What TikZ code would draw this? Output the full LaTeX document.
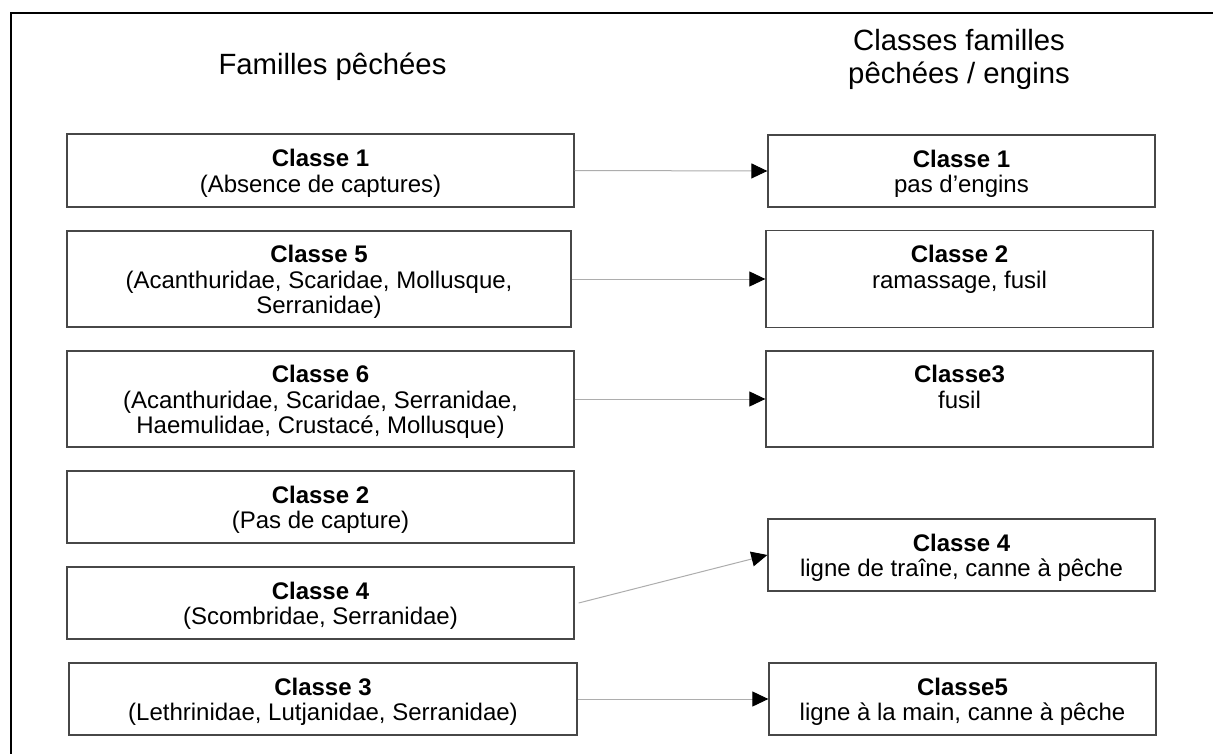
\documentclass[tikz,border=0pt]{standalone}
\usepackage{fontspec}
\setmainfont{Liberation Sans}
\usetikzlibrary{arrows.meta}
\tikzset{
  box/.style={draw=black!72, line width=1.3pt, fill=white, inner sep=0pt, align=center,
    font=\fontsize{24}{25.5}\selectfont},
  link/.style={draw=black!32, line width=1pt,
    -{Triangle[length=16pt,width=15pt,color=black]}},
  titletext/.style={inner sep=0pt, align=center, font=\fontsize{29.3}{32.5}\selectfont},
  frameline/.style={draw=black, line width=2pt}
}
\newcommand{\cl}[1]{\rule{0pt}{24pt}\textbf{#1}}
\newcommand{\fb}{\rule[-6pt]{0pt}{6pt}}
\begin{document}
\begin{tikzpicture}[x=1pt,y=-1pt]
\useasboundingbox (0,0) rectangle (1213,754);
\fill[white] (0,0) rectangle (1213,754);
\draw[frameline] (11,754) -- (11,13) -- (1213,13);

\node[titletext, anchor=base] (tl) at (332.5,75) {Familles pêchées};
\node[titletext, anchor=north] (tr) at (959,29.5) {Classes familles\\pêchées / engins};

% left column
\node[box, minimum width=507pt, minimum height=73pt] (l1) at (320.5,170.5) {\cl{Classe 1}\\(Absence de captures)\fb};
\node[box, minimum width=504pt, minimum height=96pt] (l5) at (319,279) {\cl{Classe 5}\\(Acanthuridae, Scaridae, Mollusque,\\Serranidae)\fb};
\node[box, minimum width=507pt, minimum height=96pt] (l6) at (320.5,399) {\cl{Classe 6}\\(Acanthuridae, Scaridae, Serranidae,\\Haemulidae, Crustacé, Mollusque)\fb};
\node[box, minimum width=507pt, minimum height=72pt] (l2) at (320.5,507) {\cl{Classe 2}\\(Pas de capture)\fb};
\node[box, minimum width=507pt, minimum height=72pt] (l4) at (320.5,603) {\cl{Classe 4}\\(Scombridae, Serranidae)\fb};
\node[box, minimum width=508pt, minimum height=72pt] (l3) at (323,699) {\cl{Classe 3}\\(Lethrinidae, Lutjanidae, Serranidae)\fb};

% right column
\node[box, minimum width=387pt, minimum height=72pt] (r1) at (961.5,171) {\cl{Classe 1}\\pas d’engins\fb};
\node[box, minimum width=387pt, minimum height=97pt] (r2) at (959.5,279) {\cl{Classe 2}\\ramassage, fusil\\\mbox{}\fb};
\node[box, minimum width=387pt, minimum height=96pt] (r3) at (959.5,399) {\cl{Classe3}\\fusil\\\mbox{}\fb};
\node[box, minimum width=387pt, minimum height=72pt] (r4) at (961.5,555) {\cl{Classe 4}\\ligne de traîne, canne à pêche\fb};
\node[box, minimum width=387pt, minimum height=72pt] (r5) at (962.5,699) {\cl{Classe5}\\ligne à la main, canne à pêche\fb};

% connectors
\draw[link] (l1.east) -- (r1.west);
\draw[link] (l5.east) -- (r2.west);
\draw[link] (l6.east) -- (r3.west);
\draw[link] ([xshift=4pt]l4.east) -- (r4.west);
\draw[link] (l3.east) -- (r5.west);
\end{tikzpicture}
\end{document}
